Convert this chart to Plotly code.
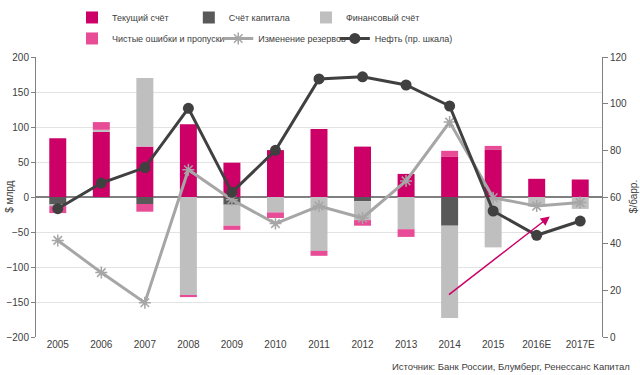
import plotly.graph_objects as go

years = ["2005", "2006", "2007", "2008", "2009", "2010", "2011", "2012", "2013",
         "2014", "2015", "2016E", "2017E"]
current_account = [84, 93, 72, 104, 49, 67, 97, 72, 33, 58, 68, 26, 25]
capital_account = [-11, 0, -10, 0, -11, 0, 0, -6, 0, -41, 0, 0, 0]
financial_account = [-2, 3, 98, -141, -30, -22, -77, -27, -46, -132, -72, -14, -17]
errors_omissions = [-10, 11, -11, -2, -6, -8, -7, -8, -11, 8, 5, 0, 0]
reserves_change = [-62, -108, -151, 39, -4, -38, -13, -30, 23, 107, -1, -13, -8]
oil_price = [55, 66, 72.6, 98, 62, 80, 110.6, 111.5, 108, 99, 54, 43.6, 49.7]

FONT = "Liberation Sans, Arial, sans-serif"
TXT = "#404040"

fig = go.Figure()
fig.add_bar(x=years, y=current_account, name="Текущий счёт", marker_color="#CC0066",
            marker_line_width=0, legend="legend")
fig.add_bar(x=years, y=capital_account, name="Счёт капитала", marker_color="#595959",
            marker_line_width=0, legend="legend2")
fig.add_bar(x=years, y=financial_account, name="Финансовый счёт", marker_color="#BFBFBF",
            marker_line_width=0, legend="legend3")
fig.add_bar(x=years, y=errors_omissions, name="Чистые ошибки и пропуски",
            marker_color="#E84C96", marker_line_width=0, legend="legend4")
fig.add_scatter(x=years, y=reserves_change, name="Изменение резервов", mode="lines+markers",
                line=dict(color="#A6A6A6", width=3), legend="legend5",
                marker=dict(symbol="asterisk-open", size=10,
                            line=dict(color="#A6A6A6", width=1.5)))
fig.add_scatter(x=years, y=oil_price, name="Нефть (пр. шкала)", mode="lines+markers",
                yaxis="y2", line=dict(color="#404040", width=3), legend="legend6",
                marker=dict(symbol="circle", size=11, color="#404040"))

fig.add_annotation(x=11.3, y=-28, ax=8.95, ay=-141, xref="x", yref="y", axref="x", ayref="y",
                   showarrow=True, arrowhead=2, arrowsize=1.2, arrowwidth=1.5,
                   arrowcolor="#CC0066", text="")

fig.add_annotation(text="Источник: Банк России, Блумберг, Ренессанс Капитал",
                   xref="paper", yref="paper", x=1.053, y=-0.104, xanchor="right",
                   yanchor="middle", showarrow=False, font=dict(size=9.5, color=TXT, family=FONT))
fig.add_annotation(text="$ млрд", xref="paper", yref="paper", x=-0.048, y=0.5,
                   xanchor="center", yanchor="middle", textangle=-90, showarrow=False,
                   font=dict(size=10, color=TXT, family=FONT))
fig.add_annotation(text="$/барр.", xref="paper", yref="paper", x=1.055, y=0.5,
                   xanchor="center", yanchor="middle", textangle=-90, showarrow=False,
                   font=dict(size=10, color=TXT, family=FONT))


def leg(x, y):
    return dict(x=x, y=y, orientation="h", xanchor="left", yanchor="top",
                font=dict(size=9, color=TXT, family=FONT), bgcolor="rgba(0,0,0,0)",
                itemwidth=30)


fig.update_layout(
    width=640, height=375,
    margin=dict(l=36, r=38, t=57, b=38, autoexpand=False),
    paper_bgcolor="white", plot_bgcolor="white",
    barmode="relative", bargap=0.61,
    font=dict(family=FONT, size=10, color=TXT),
    showlegend=True,
    legend=leg(0.0636, 1.193),
    legend2=leg(0.270, 1.193),
    legend3=leg(0.477, 1.193),
    legend4=leg(0.0636, 1.118),
    legend5=leg(0.322, 1.118),
    legend6=leg(0.528, 1.118),
    xaxis=dict(type="category", range=[-0.5, 12.5], showgrid=False, showline=False, ticks="",
               tickfont=dict(size=10, color=TXT)),
    yaxis=dict(range=[-200, 200], dtick=50, showgrid=True, gridcolor="#E3E3E3", gridwidth=1,
               zeroline=True, zerolinecolor="#808080", zerolinewidth=1.5,
               showline=True, linecolor="#808080", linewidth=1, ticks="outside", ticklen=4,
               tickcolor="#808080", tickfont=dict(size=10, color=TXT)),
    yaxis2=dict(range=[0, 120], dtick=20, overlaying="y", side="right", showgrid=False,
                zeroline=False, showline=True, linecolor="#808080", linewidth=1,
                ticks="outside", ticklen=5, tickcolor="#808080",
                tickfont=dict(size=10, color=TXT)),
)

fig.write_html("out.html", config={"displayModeBar": False},
               post_script="document.body.style.margin='0';")
